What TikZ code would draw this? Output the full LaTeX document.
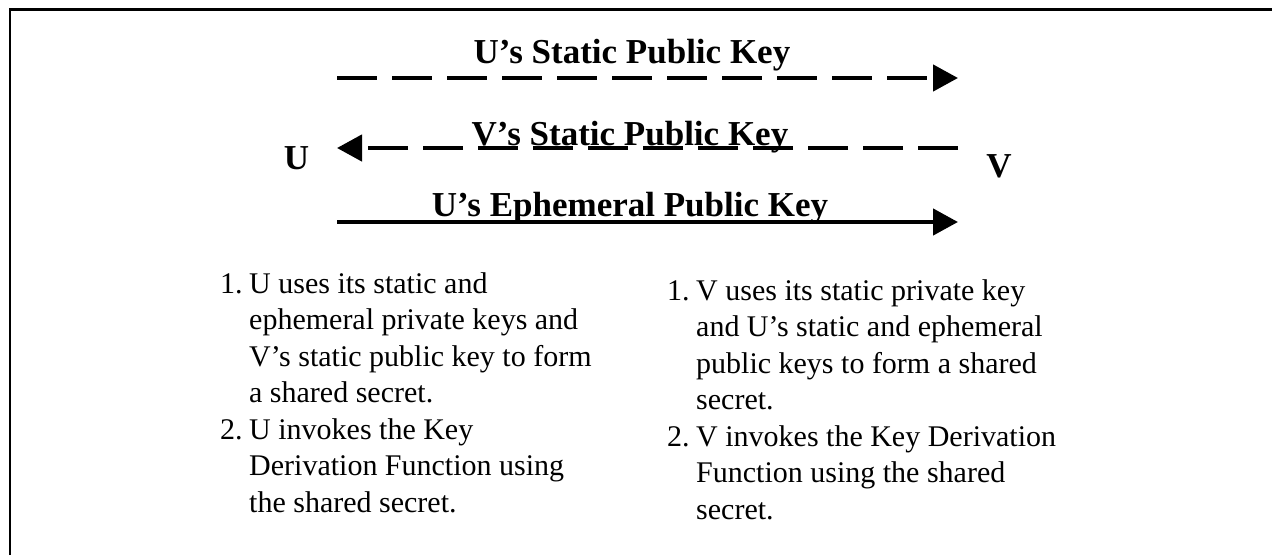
\documentclass[tikz,border=0pt]{standalone}
\usepackage{fontspec}
\setmainfont{Liberation Serif}
\usetikzlibrary{positioning, arrows.meta}

\begin{document}
\begin{tikzpicture}[x=1pt, y=-1pt,
    keylabel/.style={font=\fontsize{35}{40}\selectfont\bfseries, inner sep=0pt, anchor=base},
    party/.style={font=\fontsize{35}{40}\selectfont\bfseries, inner sep=0pt},
    steps/.style={font=\fontsize{30}{36.5}\selectfont, inner sep=0pt, anchor=base west},
    msg/.style={line width=4.5pt, -{Triangle[length=25pt, width=26pt]}},
    dashedmsg/.style={msg, dash pattern=on 40pt off 15pt}]
    \useasboundingbox (0,0) rectangle (1272,555);
    % frame, cut off at the right and bottom
    \draw[line width=2.5pt] (10,555) -- (10,9.3) -- (1272,9.3);

    % parties
    \node[party] (U) at (296.5,158.5) {U};
    \node[party] (V) at (999,166.5) {V};

    % ends of the three messages
    \coordinate (u1) at (337,78);
    \coordinate (v1) at (958,78);
    \coordinate (u2) at (337,148);
    \coordinate (v2) at (958,148);
    \coordinate (u3) at (337,222);
    \coordinate (v3) at (958,222);

    \draw[dashedmsg] (u1) -- (v1);
    \draw[dashedmsg] (v2) -- (u2);
    \draw[msg] (u3) -- (v3);

    \node[keylabel] (ustatic) at (632,63) {U’s Static Public Key};
    \node[keylabel] (vstatic) at (630,145) {V’s Static Public Key};
    \node[keylabel] (uephem) at (630,216) {U’s Ephemeral Public Key};

    % what each party does
    \node[steps] (usteps) at (220,293) {\begin{tabular}[t]{@{}l@{\hspace{6.5pt}}l@{}}
        1. & U uses its static and\\
           & ephemeral private keys and\\
           & V’s static public key to form\\
           & a shared secret.\\
        2. & U invokes the Key\\
           & Derivation Function using\\
           & the shared secret.
    \end{tabular}};
    \node[steps] (vsteps) at (667,300) {\begin{tabular}[t]{@{}l@{\hspace{6.5pt}}l@{}}
        1. & V uses its static private key\\
           & and U’s static and ephemeral\\
           & public keys to form a shared\\
           & secret.\\
        2. & V invokes the Key Derivation\\
           & Function using the shared\\
           & secret.
    \end{tabular}};
\end{tikzpicture}
\end{document}
